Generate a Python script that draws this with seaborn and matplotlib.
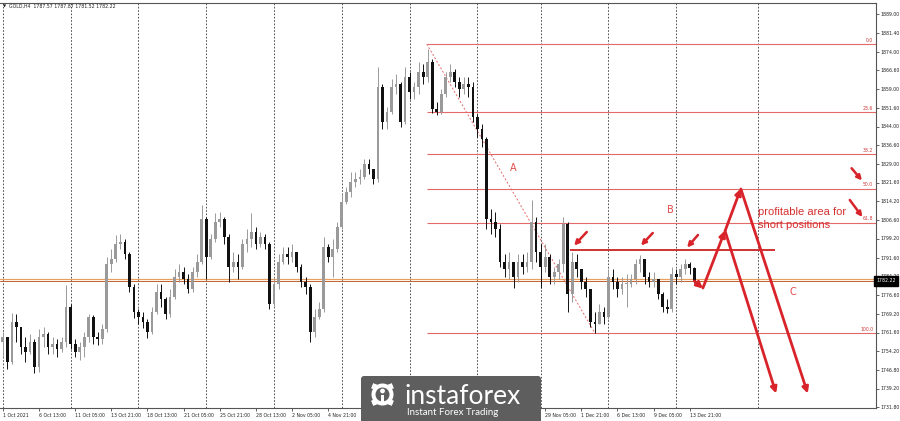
import numpy as np
import pandas as pd
import matplotlib
matplotlib.use("Agg")
import matplotlib.pyplot as plt
import matplotlib.transforms as mtransforms
from matplotlib.patches import FancyBboxPatch, Circle, Rectangle
import seaborn as sns

sns.set_theme(style="white")
plt.rcParams['font.family'] = ['DejaVu Sans']

# GOLD H4, resampled to one candle per two H4 bars
first_open = 1758.0
closes = [1760, 1750, 1766, 1764, 1756, 1754, 1758, 1748, 1760, 1761,
          1756, 1757, 1755, 1758, 1772, 1757, 1754, 1756, 1760, 1768,
          1760, 1759, 1763, 1789, 1791, 1797, 1798, 1793, 1780, 1770,
          1768, 1766, 1762, 1770, 1778, 1775, 1769, 1776, 1784, 1786,
          1783, 1779, 1786, 1790, 1807, 1792, 1799, 1806, 1807, 1800,
          1788, 1790, 1788, 1797, 1799, 1802, 1797, 1800, 1797, 1773,
          1781, 1790, 1793, 1792, 1794, 1788, 1782, 1780, 1762, 1768,
          1771, 1796, 1792, 1795, 1804, 1814, 1818, 1822, 1823, 1824,
          1829, 1827, 1823, 1860, 1846, 1850, 1860, 1861, 1846, 1864,
          1858, 1860, 1866, 1864, 1870, 1851, 1850, 1857, 1864, 1866,
          1862, 1859, 1861, 1860, 1848, 1843, 1839, 1807, 1806, 1803,
          1790, 1787, 1790, 1784, 1790, 1788, 1790, 1806, 1794, 1788,
          1792, 1784, 1786, 1789, 1805, 1777, 1790, 1787, 1782, 1779,
          1766, 1765, 1770, 1768, 1784, 1782, 1779, 1781, 1781, 1783,
          1789, 1791, 1784, 1782, 1783, 1777, 1772, 1771, 1785, 1784,
          1787, 1789, 1787.57, 1782.22]
highs = [1762, 1760, 1769.5, 1769, 1764, 1760, 1761, 1759, 1763, 1764,
         1762, 1760, 1759, 1760, 1780.5, 1773, 1759, 1758, 1762, 1769,
         1768.5, 1762, 1765, 1792, 1795, 1800.5, 1801, 1799, 1794, 1781,
         1771, 1770, 1767, 1772, 1781, 1781, 1776, 1779, 1787, 1789,
         1788, 1785, 1788, 1793, 1812.5, 1808, 1801, 1809.5, 1810, 1808,
         1801, 1794, 1793, 1799, 1803, 1809.5, 1804, 1802, 1801, 1798,
         1784, 1793, 1796, 1796, 1797, 1794, 1789, 1784, 1781, 1771,
         1774, 1800, 1797, 1799, 1806, 1817, 1820, 1826, 1826, 1827,
         1831, 1831, 1827, 1868, 1861, 1852, 1863, 1865, 1862, 1868,
         1866, 1862, 1870, 1869, 1875, 1871, 1854, 1859, 1866, 1869,
         1867, 1864, 1864, 1864, 1862, 1849, 1845, 1840, 1811, 1810,
         1805, 1793, 1794, 1790, 1793, 1793, 1794, 1814.5, 1808, 1797,
         1797, 1793, 1788, 1791, 1808, 1806, 1794, 1793, 1787, 1784,
         1779, 1770, 1773, 1772, 1787, 1787, 1784, 1784, 1785, 1785,
         1791, 1792.5, 1791, 1786, 1786, 1783, 1778, 1775, 1788, 1787,
         1789, 1791, 1790, 1787.87]
lows = [1752, 1747, 1749, 1758, 1753, 1750, 1753, 1745.5, 1746, 1756,
        1753, 1753, 1752, 1754, 1756, 1755, 1752, 1750.5, 1752, 1758,
        1757, 1756.5, 1757, 1762, 1786, 1790, 1795, 1791, 1778, 1767.5,
        1765, 1763.5, 1759.5, 1761, 1769, 1772, 1767, 1768, 1775, 1782,
        1781, 1777.5, 1778, 1784, 1789, 1783, 1791, 1798, 1804, 1797,
        1782, 1786, 1783, 1787, 1794, 1796, 1795, 1796, 1795, 1771,
        1772, 1779, 1789, 1789, 1790, 1786, 1780, 1777, 1758, 1760,
        1767, 1770, 1790, 1784, 1794, 1803, 1813, 1816, 1820, 1821,
        1823, 1825, 1821, 1822, 1843, 1843, 1849, 1857, 1844, 1845,
        1855, 1855, 1857, 1861, 1862, 1849.5, 1848.5, 1849, 1856, 1862,
        1860, 1856, 1857, 1856, 1846, 1840, 1836, 1803, 1801, 1800,
        1788, 1784, 1783, 1779.5, 1782, 1785, 1786, 1787, 1790, 1779.5,
        1786, 1781, 1781, 1783, 1786, 1770, 1774, 1784, 1779, 1776,
        1764, 1761.5, 1765, 1765, 1767, 1779, 1776, 1777, 1772, 1780,
        1781, 1786, 1781, 1780, 1780, 1775, 1770, 1769.5, 1770, 1781,
        1782, 1785, 1785, 1781.52]

# time labels every 16 H4 bars; the ones under the logo are left blank
x_labels = ["1 Oct 2021", "6 Oct 13:00", "11 Oct 05:00", "13 Oct 21:00",
            "18 Oct 13:00", "21 Oct 05:00", "25 Oct 21:00", "28 Oct 13:00",
            "2 Nov 05:00", "4 Nov 21:00", "", "", "", "", "", "29 Nov 05:00",
            "1 Dec 21:00", "6 Dec 13:00", "9 Dec 05:00", "13 Dec 21:00"]
y_ticks = [1889.0, 1881.4, 1874.0, 1866.6, 1859.0, 1851.6, 1844.0, 1836.6,
           1829.0, 1821.6, 1814.2, 1806.6, 1799.2, 1791.6, 1784.2, 1776.6,
           1769.2, 1761.6, 1754.2, 1746.8, 1739.2, 1731.8]
grid_bars = [0, 15, 30, 45, 60, 75, 90, 105, 119, 134, 149, 167]

# fibonacci retracement
fib_high, fib_low = 1877.0, 1761.4
fib_start, fib_end = 93.8, 131.0
fib_levels = [0.0, 23.6, 38.2, 50.0, 61.8, 100.0]

last_price = 1782.22
ask_price = 1782.9
resistance = 1794.6
resistance_from, resistance_to = 125.5, 170.8

# hand drawn forecast arrows (start bar, start price, end bar, end price)
forecast_arrows = [(153.0, 1782.2, 154.9, 1779.2),
                   (154.9, 1779.4, 159.8, 1802.4),
                   (159.8, 1802.2, 163.3, 1819.2),
                   (159.8, 1802.2, 171.1, 1737.2),
                   (163.3, 1819.0, 178.1, 1737.2)]
small_arrows = [(129.2, 1801.8, 126.4, 1796.4),
                (143.8, 1801.4, 141.2, 1796.4),
                (153.8, 1800.6, 151.4, 1795.6),
                (187.8, 1827.3, 190.1, 1822.4),
                (187.4, 1814.6, 190.2, 1807.8)]
letters = [("A", 112.9, 1827.4), ("B", 147.6, 1810.6), ("C", 174.8, 1777.8)]

red = "#d8232a"
fib_red = "#e46a6a"

n = len(closes)
df = pd.DataFrame({"bar": np.arange(n), "close": closes, "high": highs, "low": lows})
df["open"] = [first_open] + closes[:-1]
df["high"] = df[["high", "open", "close"]].max(axis=1)
df["low"] = df[["low", "open", "close"]].min(axis=1)
df["up"] = df["close"] >= df["open"]

fig = plt.figure(figsize=(9, 4.21), dpi=100)
ax = fig.add_axes([0, 13 / 421, 876 / 900, 405 / 421])
ax.set_xlim(-0.63, 193.2)
ax.set_ylim(1731.4, 1893.4)

for b in grid_bars:
    ax.axvline(b, color="#333333", lw=0.6, ls=(0, (2, 2)), zorder=0)

ax.axhline(ask_price, color="#e8a060", lw=0.9, zorder=1)
ax.axhline(last_price, color="#c0622a", lw=0.7, zorder=1)

bull, bear = "#9a9a9a", "#111111"
for is_up, col in [(True, bull), (False, bear)]:
    part = df[df["up"] == is_up]
    ax.vlines(part["bar"], part["low"], part["high"], color=col, lw=0.7, zorder=3)
    ax.bar(part["bar"], np.maximum((part["close"] - part["open"]).abs(), 0.3),
           bottom=part[["open", "close"]].min(axis=1), width=0.6, color=col,
           linewidth=0, zorder=3)

# fibonacci
fib_prices = [fib_high - (fib_high - fib_low) * lv / 100 for lv in fib_levels]
for lv, p in zip(fib_levels, fib_prices):
    ax.hlines(p, fib_start, 193.2, color=fib_red, lw=0.8, zorder=2)
    ax.text(192.6, p + 0.5, f"{lv:.1f}", ha="right", va="bottom",
            fontsize=3.3, color="#d03a3a", zorder=4)
trend = pd.DataFrame({"bar": [fib_start, fib_end], "price": [fib_high, fib_low]})
sns.lineplot(data=trend, x="bar", y="price", ax=ax, color=fib_red, lw=0.7,
             linestyle=(0, (2, 2)), zorder=2)

ax.hlines(resistance, resistance_from, resistance_to, color="#cc2222", lw=1.3, zorder=4)

for x0, y0, x1, y1 in forecast_arrows:
    ax.annotate("", xy=(x1, y1), xytext=(x0, y0),
                arrowprops=dict(arrowstyle="-|>", color=red, lw=2.0,
                                mutation_scale=9, shrinkA=0, shrinkB=0), zorder=5)
for x0, y0, x1, y1 in small_arrows:
    ax.annotate("", xy=(x1, y1), xytext=(x0, y0),
                arrowprops=dict(arrowstyle="-|>", color=red, lw=1.8,
                                mutation_scale=7, shrinkA=0, shrinkB=0), zorder=5)

for t, bx, py in letters:
    ax.text(bx, py, t, fontsize=7, color="#e04a4a", ha="center", va="center")
ax.text(167.1, 1807.2, "profitable area for\nshort positions", fontsize=8,
        color="#d43030", ha="left", va="center", linespacing=1.3,
        family=["Liberation Sans", "DejaVu Sans"])

# axes and ticks
ax.set_xlabel("")
ax.set_ylabel("")
ax.set_xticks(np.arange(len(x_labels)) * 8)
ax.set_xticklabels(x_labels)
for lab in ax.get_xticklabels():
    lab.set_ha("left")
ax.yaxis.tick_right()
ax.set_yticks(y_ticks)
ax.set_yticklabels([f"{v:.2f}" for v in y_ticks])
ax.tick_params(axis="x", bottom=True, length=2, width=0.5, pad=1.5,
               labelsize=3.3, colors="#222222")
ax.tick_params(axis="y", right=True, left=False, length=2, width=0.5, pad=1.5,
               labelsize=3.3, colors="#222222")
for side in ["top", "right", "bottom"]:
    ax.spines[side].set_color("#555555")
    ax.spines[side].set_linewidth(0.8)
ax.spines["left"].set_visible(False)

tr = mtransforms.blended_transform_factory(ax.transAxes, ax.transData)
ax.text(1.0, last_price, "1782.22", transform=tr, ha="left", va="center",
        fontsize=3.3, color="white",
        bbox=dict(boxstyle="square,pad=0.5", fc="black", ec="black"))

fig.text(3 / 900, 1 - 6.5 / 421, "\u25bc", fontsize=3, ha="left", va="center",
         color="#222222")
fig.text(9 / 900, 1 - 6.5 / 421, "GOLD,H4  1787.57 1787.87 1781.52 1782.22",
         fontsize=3.3, ha="left", va="center", color="#222222")

# instaforex logo
lg = fig.add_axes([360 / 900, 0, 182 / 900, 46 / 421], zorder=10)
lg.set_xlim(360, 542)
lg.set_ylim(421, 375)
lg.axis("off")
lg.add_patch(FancyBboxPatch((361, 376), 180, 50, boxstyle="round,pad=0,rounding_size=3",
                            fc="#5e5e5e", ec="none"))
gx, gy = 382.5, 394.5
for k in range(8):
    a = np.pi / 8 + k * np.pi / 4
    lg.add_patch(Rectangle((gx - 2.6, gy - 2.6), 5.2, 5.2, fc="white", ec="none",
                           transform=mtransforms.Affine2D().translate(-gx, -gy)
                           .translate(11 * np.cos(a), 11 * np.sin(a))
                           .rotate(a).translate(gx, gy) + lg.transData))
lg.add_patch(Circle((gx, gy), 11, fc="white", ec="none"))
lg.add_patch(Circle((gx, gy), 7, fc="#5e5e5e", ec="none"))
lg.add_patch(Circle((gx, gy - 3.5), 2.4, fc="white", ec="none"))
lg.add_patch(Rectangle((gx - 1.5, gy), 3, 9, fc="white", ec="none"))
lg.text(404, 404, "instaforex", fontsize=19, color="white", ha="left",
        va="baseline", family=["Lato", "DejaVu Sans"])
lg.text(407, 412.5, "Instant Forex Trading", fontsize=7, color="white",
        ha="left", va="center", family=["Lato", "DejaVu Sans"])

fig.savefig("out.png", dpi=100)
